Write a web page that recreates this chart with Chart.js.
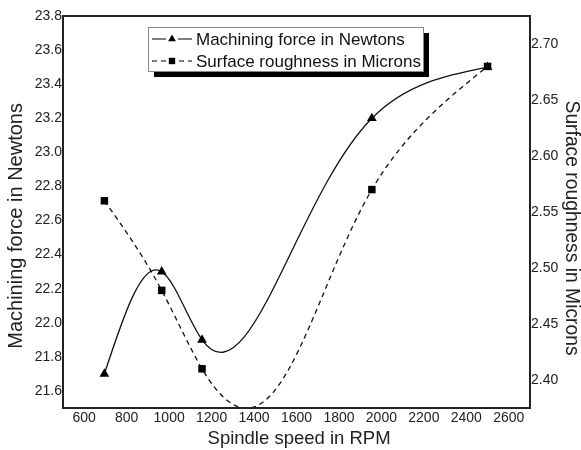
<!DOCTYPE html>
<html>
<head>
<meta charset="utf-8">
<script src="https://cdn.jsdelivr.net/npm/chart.js@4.4.0/dist/chart.umd.min.js"></script>
<style>
  html, body { margin: 0; padding: 0; background: #fff; }
</style>
</head>
<body>
<canvas id="myChart" width="581" height="450"></canvas>
<script>
// values
var spindleSpeed = [695, 965, 1155, 1955, 2500];
var machiningForce = [21.7, 22.3, 21.9, 23.2, 23.5];
var surfaceRoughness = [2.56, 2.48, 2.41, 2.57, 2.68];

// tick labels
var xTicks = [600, 800, 1000, 1200, 1400, 1600, 1800, 2000, 2200, 2400, 2600];
var forceTicks = [21.6, 21.8, 22.0, 22.2, 22.4, 22.6, 22.8, 23.0, 23.2, 23.4, 23.6, 23.8];
var roughTicks = [2.40, 2.45, 2.50, 2.55, 2.60, 2.65, 2.70];

var forceLabel = 'Machining force in Newtons';
var roughLabel = 'Surface roughness in Microns';
var xLabel = 'Spindle speed in RPM';

var FONT = "'Liberation Sans', Arial, sans-serif";
var INK = '#222';

function pairs(xs, ys) {
  return xs.map(function(x, i) { return { x: x, y: ys[i] }; });
}

function fixTicks(list) {
  return function(scale) {
    scale.ticks = list.map(function(v) { return { value: v }; });
  };
}

// first derivatives of a natural cubic spline v(s)
function naturalSlopes(s, v) {
  var n = v.length, h = [], d = [], k;
  for (k = 0; k < n - 1; k++) {
    h[k] = s[k + 1] - s[k];
    d[k] = (v[k + 1] - v[k]) / h[k];
  }
  var M = new Array(n).fill(0);
  var a = [], b = [], c = [], r = [];
  for (k = 1; k < n - 1; k++) {
    a[k] = h[k - 1]; b[k] = 2 * (h[k - 1] + h[k]); c[k] = h[k];
    r[k] = 6 * (d[k] - d[k - 1]);
  }
  for (k = 2; k < n - 1; k++) {
    var w = a[k] / b[k - 1];
    b[k] -= w * c[k - 1];
    r[k] -= w * r[k - 1];
  }
  for (k = n - 2; k >= 1; k--) M[k] = (r[k] - c[k] * M[k + 1]) / b[k];
  var m = [];
  for (k = 0; k < n - 1; k++) m[k] = d[k] - h[k] * (2 * M[k] + M[k + 1]) / 6;
  m[n - 1] = d[n - 2] + h[n - 2] * (M[n - 2] + 2 * M[n - 1]) / 6;
  return m;
}

// parametric spline handed to chart.js as bezier control points
// knot spacing = chord length ^ chordPower (per dataset)
var splinePlugin = {
  id: 'spline',
  beforeDatasetsDraw: function(chart) {
    chart.data.datasets.forEach(function(ds, i) {
      var meta = chart.getDatasetMeta(i);
      var pts = meta.data;
      var n = pts.length;
      if (n < 3) return;
      var pw = ds.chordPower || 1;
      var s = [0], xs = [pts[0].x], ys = [pts[0].y], k;
      for (k = 1; k < n; k++) {
        s[k] = s[k - 1] + Math.pow(Math.hypot(pts[k].x - pts[k - 1].x, pts[k].y - pts[k - 1].y), pw);
        xs[k] = pts[k].x; ys[k] = pts[k].y;
      }
      var mx = naturalSlopes(s, xs), my = naturalSlopes(s, ys);
      for (k = 0; k < n; k++) {
        var p = pts[k];
        var hp = k > 0 ? (s[k] - s[k - 1]) / 3 : 0;
        var hn = k < n - 1 ? (s[k + 1] - s[k]) / 3 : 0;
        p.cp1x = p.x - mx[k] * hp; p.cp1y = p.y - my[k] * hp;
        p.cp2x = p.x + mx[k] * hn; p.cp2y = p.y + my[k] * hn;
      }
      meta.dataset._pointsUpdated = true;
      meta.dataset._path = undefined;
    });
  }
};

// plot frame
var framePlugin = {
  id: 'frame',
  afterDatasetsDraw: function(chart) {
    var a = chart.chartArea, ctx = chart.ctx;
    ctx.save();
    ctx.strokeStyle = INK;
    ctx.lineWidth = 2;
    ctx.strokeRect(a.left, a.top, a.right - a.left, a.bottom - a.top);
    ctx.restore();
  }
};

function drawMarker(ctx, style, x, y, r) {
  ctx.beginPath();
  if (style === 'triangle') {
    ctx.moveTo(x, y - r);
    ctx.lineTo(x + r * 0.866, y + r * 0.5);
    ctx.lineTo(x - r * 0.866, y + r * 0.5);
    ctx.closePath();
  } else {
    var s = r * 0.707;
    ctx.rect(x - s, y - s, 2 * s, 2 * s);
  }
  ctx.fill();
}

// boxed legend with shadow inside the plot
var legendPlugin = {
  id: 'boxLegend',
  afterDraw: function(chart) {
    var a = chart.chartArea, ctx = chart.ctx;
    var x = a.left + 85, y = a.top + 11, w = 275, h = 44;
    ctx.save();
    ctx.fillStyle = '#000';
    ctx.fillRect(x + 6, y + 6, w, h);
    ctx.fillStyle = '#fff';
    ctx.fillRect(x, y, w, h);
    ctx.strokeStyle = '#888';
    ctx.lineWidth = 1;
    ctx.strokeRect(x + 0.5, y + 0.5, w, h);
    chart.data.datasets.forEach(function(ds, i) {
      var cy = y + 12 + i * 22;
      ctx.strokeStyle = '#000';
      ctx.lineWidth = 1.2;
      ctx.setLineDash(ds.borderDash || []);
      ctx.beginPath();
      ctx.moveTo(x + 4, cy); ctx.lineTo(x + 44, cy);
      ctx.stroke();
      ctx.fillStyle = '#fff';
      ctx.fillRect(x + 18, cy - 5, 12, 10);
      ctx.fillStyle = '#000';
      drawMarker(ctx, ds.pointStyle, x + 24, cy, 4.5);
      ctx.setLineDash([]);
      ctx.fillStyle = '#111';
      ctx.font = '17px ' + FONT;
      ctx.textBaseline = 'middle';
      ctx.fillText(ds.label, x + 48, cy + 1);
    });
    ctx.restore();
  }
};

var ctx = document.getElementById('myChart').getContext('2d');

var chart = new Chart(ctx, {
  type: 'line',
  data: {
    datasets: [{
      label: forceLabel,
      data: pairs(spindleSpeed, machiningForce),
      yAxisID: 'y',
      borderColor: '#111',
      borderWidth: 1.3,
      tension: 0.4,
      chordPower: 1,
      pointStyle: 'triangle',
      pointRadius: 5.6,
      pointBackgroundColor: '#000',
      pointBorderColor: '#000',
      pointBorderWidth: 0,
      clip: 0
    }, {
      label: roughLabel,
      data: pairs(spindleSpeed, surfaceRoughness),
      yAxisID: 'y2',
      borderColor: '#111',
      borderWidth: 1.3,
      borderDash: [5, 4],
      tension: 0.4,
      chordPower: 1.7,
      pointStyle: 'rect',
      pointRadius: 5.3,
      pointBackgroundColor: '#000',
      pointBorderColor: '#000',
      pointBorderWidth: 0,
      clip: 0
    }]
  },
  options: {
    responsive: false,
    animation: false,
    layout: { padding: { top: 16, left: 0, right: 0, bottom: 0 } },
    plugins: {
      legend: { display: false },
      tooltip: { enabled: false }
    },
    scales: {
      x: {
        type: 'linear',
        min: 500,
        max: 2700,
        afterBuildTicks: fixTicks(xTicks),
        afterFit: function(s) { s.height = 42; },
        grid: { display: false, drawTicks: false },
        border: { display: false },
        ticks: { padding: 2, color: INK, font: { family: FONT, size: 14 }, maxRotation: 0, autoSkip: false,
          callback: function(v) { return String(v); } },
        title: { display: true, text: ' ' + xLabel, color: INK, font: { family: FONT, size: 18.5 }, padding: { top: 0, bottom: 0 } }
      },
      y: {
        type: 'linear',
        position: 'left',
        min: 21.5,
        max: 23.8,
        afterBuildTicks: fixTicks(forceTicks),
        afterFit: function(s) { s.width = 63; },
        grid: { display: false, drawTicks: false },
        border: { display: false },
        ticks: { padding: 1, color: INK, font: { family: FONT, size: 14 }, autoSkip: false,
          callback: function(v) { return v.toFixed(1); } },
        // trailing spaces nudge the rotated title down like the original
        title: { display: true, text: forceLabel + '     ', color: INK, font: { family: FONT, size: 20, lineHeight: 1 }, padding: { top: 6, bottom: 0 } }
      },
      y2: {
        type: 'linear',
        position: 'right',
        min: 2.375,
        max: 2.725,
        afterBuildTicks: fixTicks(roughTicks),
        afterFit: function(s) { s.width = 51; },
        grid: { display: false, drawTicks: false },
        border: { display: false },
        ticks: { padding: 1, color: INK, font: { family: FONT, size: 14 }, autoSkip: false,
          callback: function(v) { return v.toFixed(2); } },
        title: { display: true, text: '      ' + roughLabel, color: INK, font: { family: FONT, size: 19.3, lineHeight: 1 }, padding: { top: 0, bottom: 0 } }
      }
    }
  },
  plugins: [splinePlugin, framePlugin, legendPlugin]
});
</script>
</body>
</html>
